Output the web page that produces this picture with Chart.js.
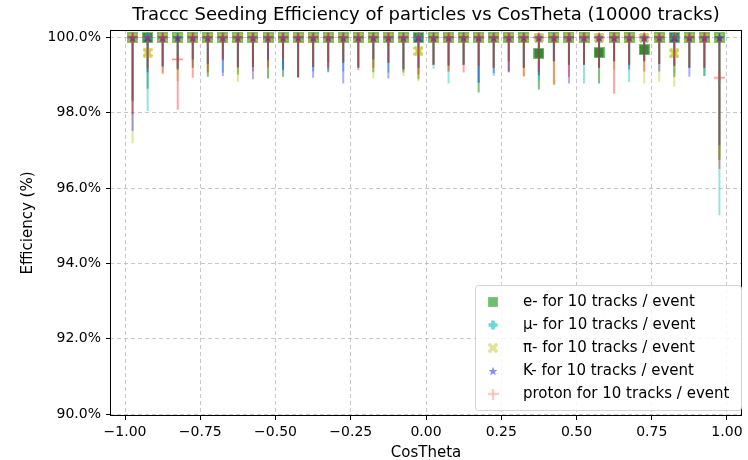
<!DOCTYPE html>
<html>
<head>
<meta charset="utf-8">
<script src="https://cdn.jsdelivr.net/npm/chart.js@4.4.1/dist/chart.umd.min.js"></script>
<style>
  html, body { margin: 0; padding: 0; background: #fff; }
  #wrap { width: 748px; height: 460px; position: relative; }
</style>
</head>
<body>
<div id="wrap"><canvas id="chart" width="748" height="460"></canvas></div>
<script>
// ========================================
// DATA
// ========================================
const cosTheta = [
  -0.975, -0.925, -0.875, -0.825, -0.775, -0.725, -0.675, -0.625, -0.575, -0.525,
  -0.475, -0.425, -0.375, -0.325, -0.275, -0.225, -0.175, -0.125, -0.075, -0.025,
   0.025,  0.075,  0.125,  0.175,  0.225,  0.275,  0.325,  0.375,  0.425,  0.475,
   0.525,  0.575,  0.625,  0.675,  0.725,  0.775,  0.825,  0.875,  0.925,  0.975
];

// efficiency (%) per bin
const effElectron = [
  100, 100, 100, 100, 100, 100, 100, 100, 100, 100,
  100, 100, 100, 100, 100, 100, 100, 100, 100, 100,
  100, 100, 100, 100, 100, 100, 100, 99.58, 100, 100,
  100, 99.6, 100, 100, 99.68, 100, 100, 100, 100, 100
];
const effMuon = [
  100, 100, 100, 100, 100, 100, 100, 100, 100, 100,
  100, 100, 100, 100, 100, 100, 100, 100, 100, 100,
  100, 100, 100, 100, 100, 100, 100, 100, 100, 100,
  100, 100, 100, 100, 100, 100, 100, 100, 100, 100
];
const effPion = [
  100, 99.6, 100, 100, 100, 100, 100, 100, 100, 100,
  100, 100, 100, 100, 100, 100, 100, 100, 100, 99.64,
  100, 100, 100, 100, 100, 100, 100, 100, 100, 100,
  100, 100, 100, 100, 100, 100, 99.58, 100, 100, 100
];
const effKaon = [
  100, 100, 100, 100, 100, 100, 100, 100, 100, 100,
  100, 100, 100, 100, 100, 100, 100, 100, 100, 100,
  100, 100, 100, 100, 100, 100, 100, 100, 100, 100,
  100, 100, 100, 100, 100, 100, 100, 100, 100, 100
];
const effProton = [
  100, 100, 100, 99.42, 100, 100, 100, 100, 100, 100,
  100, 100, 100, 100, 100, 100, 100, 100, 100, 100,
  100, 100, 100, 100, 100, 100, 100, 100, 100, 100,
  100, 100, 100, 100, 100, 100, 100, 100, 100, 98.93
];

// lower end of the error bar (%) per bin
const lowElectron = [
  98.32, 98.64, 99.25, 99.15, 99.20, 98.96, 99.42, 99.02, 99.22, 98.91,
  98.96, 98.95, 99.22, 99.33, 99.33, 99.20, 99.08, 99.33, 99.07, 98.89,
  99.28, 99.25, 99.28, 98.54, 99.20, 99.37, 99.20, 98.62, 99.37, 99.28,
  99.28, 98.78, 99.37, 99.28, 99.37, 99.30, 98.95, 99.20, 98.98, 96.75
];
const lowMuon = [
  98.30, 98.05, 99.25, 99.15, 99.42, 99.28, 99.07, 99.20, 99.25, 99.37,
  99.11, 98.95, 99.10, 99.07, 99.10, 99.22, 99.40, 99.07, 99.15, 99.20,
  99.17, 98.78, 99.28, 98.80, 98.98, 99.10, 99.20, 98.85, 99.37, 99.28,
  98.78, 99.20, 99.37, 98.82, 99.37, 99.30, 99.05, 99.20, 99.00, 95.28
];
const lowPion = [
  97.19, 99.17, 99.02, 98.84, 99.40, 99.05, 99.42, 98.82, 99.22, 99.17,
  99.40, 98.93, 99.25, 99.17, 99.35, 99.20, 98.92, 99.35, 98.98, 98.84,
  99.28, 99.10, 99.28, 99.25, 99.20, 99.37, 98.95, 99.10, 98.73, 99.28,
  99.28, 99.20, 99.15, 99.28, 98.78, 98.82, 98.69, 99.20, 99.20, 96.80
];
const lowKaon = [
  97.52, 99.08, 99.22, 99.18, 99.42, 99.30, 98.98, 99.22, 98.89, 99.40,
  99.15, 98.95, 98.93, 99.10, 98.78, 99.20, 99.42, 98.91, 99.15, 99.20,
  99.28, 99.25, 99.28, 98.80, 99.05, 99.07, 99.20, 99.00, 99.37, 98.78,
  99.28, 99.20, 99.37, 99.15, 99.37, 99.10, 99.25, 98.96, 99.20, 97.14
];
const lowProton = [
  97.96, 99.20, 99.05, 98.08, 98.93, 99.08, 99.40, 99.20, 99.10, 99.20,
  99.42, 98.93, 99.22, 99.20, 99.33, 99.13, 99.20, 99.33, 99.15, 99.02,
  99.28, 99.10, 99.07, 99.25, 99.20, 99.10, 98.98, 99.10, 98.75, 98.95,
  99.28, 99.20, 98.51, 99.28, 99.10, 99.30, 99.25, 99.20, 99.20, 96.51
];

const seriesLabels = [
  'e- for 10 tracks / event',
  'μ- for 10 tracks / event',
  'π- for 10 tracks / event',
  'K- for 10 tracks / event',
  'proton for 10 tracks / event'
];

const xTicks = [-1.0, -0.75, -0.5, -0.25, 0.0, 0.25, 0.5, 0.75, 1.0];
const yTicks = [90, 92, 94, 96, 98, 100];

// ========================================
// MARKERS
// ========================================
function makeMarker(size, draw) {
  const c = document.createElement('canvas');
  c.width = size;
  c.height = size;
  const g = c.getContext('2d');
  draw(g, size / 2);
  return c;
}

function squareMarker(size, fill, edge) {
  return makeMarker(size, (g, r) => {
    g.fillStyle = edge;
    g.fillRect(0, 0, size, size);
    g.fillStyle = fill;
    g.fillRect(1, 1, size - 2, size - 2);
  });
}

function plusPath(g, r, arm) {
  g.beginPath();
  g.moveTo(-arm, -r); g.lineTo(arm, -r); g.lineTo(arm, -arm); g.lineTo(r, -arm);
  g.lineTo(r, arm); g.lineTo(arm, arm); g.lineTo(arm, r); g.lineTo(-arm, r);
  g.lineTo(-arm, arm); g.lineTo(-r, arm); g.lineTo(-r, -arm); g.lineTo(-arm, -arm);
  g.closePath();
}

function filledPlusMarker(size, fill, rot) {
  return makeMarker(size, (g, r) => {
    g.translate(r, r);
    g.rotate(rot);
    g.fillStyle = fill;
    plusPath(g, rot ? r * 1.2 : r - 0.5, r * 0.36);
    g.fill();
  });
}

function starMarker(size, fill) {
  return makeMarker(size, (g, r) => {
    g.translate(r, r + 0.5);
    g.fillStyle = fill;
    g.beginPath();
    for (let i = 0; i < 10; i++) {
      const rr = i % 2 === 0 ? r - 0.3 : (r - 0.3) * 0.42;
      const a = -Math.PI / 2 + i * Math.PI / 5;
      const px = rr * Math.cos(a), py = rr * Math.sin(a);
      if (i === 0) g.moveTo(px, py); else g.lineTo(px, py);
    }
    g.closePath();
    g.fill();
  });
}

function thinPlusMarker(size, color) {
  return makeMarker(size, (g, r) => {
    g.strokeStyle = color;
    g.lineWidth = 1.5;
    g.beginPath();
    g.moveTo(r, 0); g.lineTo(r, size);
    g.moveTo(0, r); g.lineTo(size, r);
    g.stroke();
  });
}

const plotMarkers = [
  squareMarker(11, '#2e8e2e', '#78bf78'),
  filledPlusMarker(10, 'rgba(40,200,200,0.85)', 0),
  filledPlusMarker(10, 'rgba(200,200,50,0.85)', Math.PI / 4),
  starMarker(11, 'rgba(55,50,190,0.8)'),
  thinPlusMarker(11, 'rgba(240,60,60,0.6)')
];

const legendMarkers = [
  squareMarker(10, '#6fbf6f', '#82c882'),
  filledPlusMarker(10, '#66d8d8', 0),
  filledPlusMarker(10, '#e2e29a', Math.PI / 4),
  starMarker(10, '#8c8cf6'),
  thinPlusMarker(11, '#ffaaaa')
];

const barColors = [
  'rgba(0,128,0,0.5)',
  'rgba(0,191,191,0.42)',
  'rgba(191,191,0,0.4)',
  'rgba(0,0,255,0.33)',
  'rgba(255,0,0,0.36)'
];

// ========================================
// DATASETS
// ========================================
const effs = [effElectron, effMuon, effPion, effKaon, effProton];
const lows = [lowElectron, lowMuon, lowPion, lowKaon, lowProton];

function errorBarData(eff, low) {
  const pts = [];
  cosTheta.forEach((x, i) => {
    pts.push({ x: x, y: Math.max(eff[i], 100) });
    pts.push({ x: x, y: low[i] });
    pts.push({ x: x, y: null });
  });
  return pts;
}

const datasets = [];
effs.forEach((eff, s) => {
  datasets.push({
    label: seriesLabels[s] + ' err',
    data: errorBarData(eff, lows[s]),
    showLine: true,
    spanGaps: false,
    borderColor: barColors[s],
    borderWidth: 2,
    pointRadius: 0,
    order: 20 - 2 * s
  });
  datasets.push({
    label: seriesLabels[s],
    data: cosTheta.map((x, i) => ({ x: x, y: eff[i] })),
    showLine: false,
    pointStyle: plotMarkers[s],
    pointRadius: 5,
    order: 19 - 2 * s
  });
});

// ========================================
// PLUGINS
// ========================================
const frameAndTitle = {
  id: 'frameAndTitle',
  afterDraw(chart) {
    const { ctx, chartArea: a } = chart;
    ctx.save();
    ctx.strokeStyle = '#000';
    ctx.lineWidth = 1;
    ctx.strokeRect(Math.round(a.left) + 0.5, Math.round(a.top) + 0.5,
      Math.round(a.right - a.left) - 1, Math.round(a.bottom - a.top) - 1);
    ctx.fillStyle = '#000';
    ctx.font = '18px "DejaVu Sans"';
    ctx.textAlign = 'center';
    ctx.textBaseline = 'middle';
    ctx.fillText('Traccc Seeding Efficiency of particles vs CosTheta (10000 tracks)', (a.left + a.right) / 2, 15);
    ctx.restore();
  }
};

const boxLegend = {
  id: 'boxLegend',
  afterDraw(chart) {
    const { ctx } = chart;
    const x0 = 475, y0 = 285, w = 266, h = 125;
    ctx.save();
    ctx.fillStyle = 'rgba(255,255,255,0.85)';
    ctx.strokeStyle = '#d4d4d4';
    ctx.lineWidth = 1;
    ctx.beginPath();
    ctx.roundRect(x0 + 0.5, y0 + 0.5, w, h, 3);
    ctx.fill();
    ctx.stroke();
    ctx.font = '15px "DejaVu Sans"';
    ctx.fillStyle = '#000';
    ctx.textBaseline = 'middle';
    seriesLabels.forEach((lab, i) => {
      const y = y0 + 17 + i * 23;
      const m = legendMarkers[i];
      ctx.drawImage(m, 493 - m.width / 2, y - m.height / 2);
      ctx.fillText(lab, 523, y);
    });
    ctx.restore();
  }
};

// ========================================
// CHART
// ========================================
const tickFont = { family: '"DejaVu Sans"', size: 14 };
const titleFont = { family: '"DejaVu Sans"', size: 15 };

new Chart(document.getElementById('chart'), {
  type: 'scatter',
  data: { datasets: datasets },
  options: {
    responsive: false,
    animation: false,
    layout: { padding: { top: 30, right: 6, left: 0, bottom: 0 } },
    plugins: {
      legend: { display: false },
      tooltip: { enabled: false },
      title: { display: false }
    },
    scales: {
      x: {
        type: 'linear',
        min: -1.05,
        max: 1.05,
        afterBuildTicks: (sc) => { sc.ticks = xTicks.map(v => ({ value: v })); },
        afterFit: (sc) => { sc.height = 44; },
        ticks: {
          color: '#000',
          font: tickFont,
          padding: 4,
          maxRotation: 0,
          callback: (v) => v.toFixed(2).replace('-', '\u2212')
        },
        grid: { color: 'rgba(176,176,176,0.7)', lineWidth: 1, tickColor: '#000', tickLength: 4, tickBorderDash: [] },
        border: { display: false, dash: [4, 3] },
        title: { display: true, text: 'CosTheta', color: '#000', font: titleFont, padding: { top: 0, bottom: -2 } }
      },
      y: {
        type: 'linear',
        min: 89.95,
        max: 100.2,
        afterBuildTicks: (sc) => { sc.ticks = yTicks.map(v => ({ value: v })); },
        afterFit: (sc) => { sc.width = 110; },
        ticks: {
          color: '#000',
          font: tickFont,
          padding: 5,
          callback: (v) => v.toFixed(1) + '%'
        },
        grid: { color: 'rgba(176,176,176,0.7)', lineWidth: 1, tickColor: '#000', tickLength: 4, tickBorderDash: [] },
        border: { display: false, dash: [4, 3] },
        title: { display: true, text: 'Efficiency (%)', color: '#000', font: titleFont, padding: { top: 19, bottom: 0 } }
      }
    }
  },
  plugins: [frameAndTitle, boxLegend]
});
</script>
</body>
</html>
